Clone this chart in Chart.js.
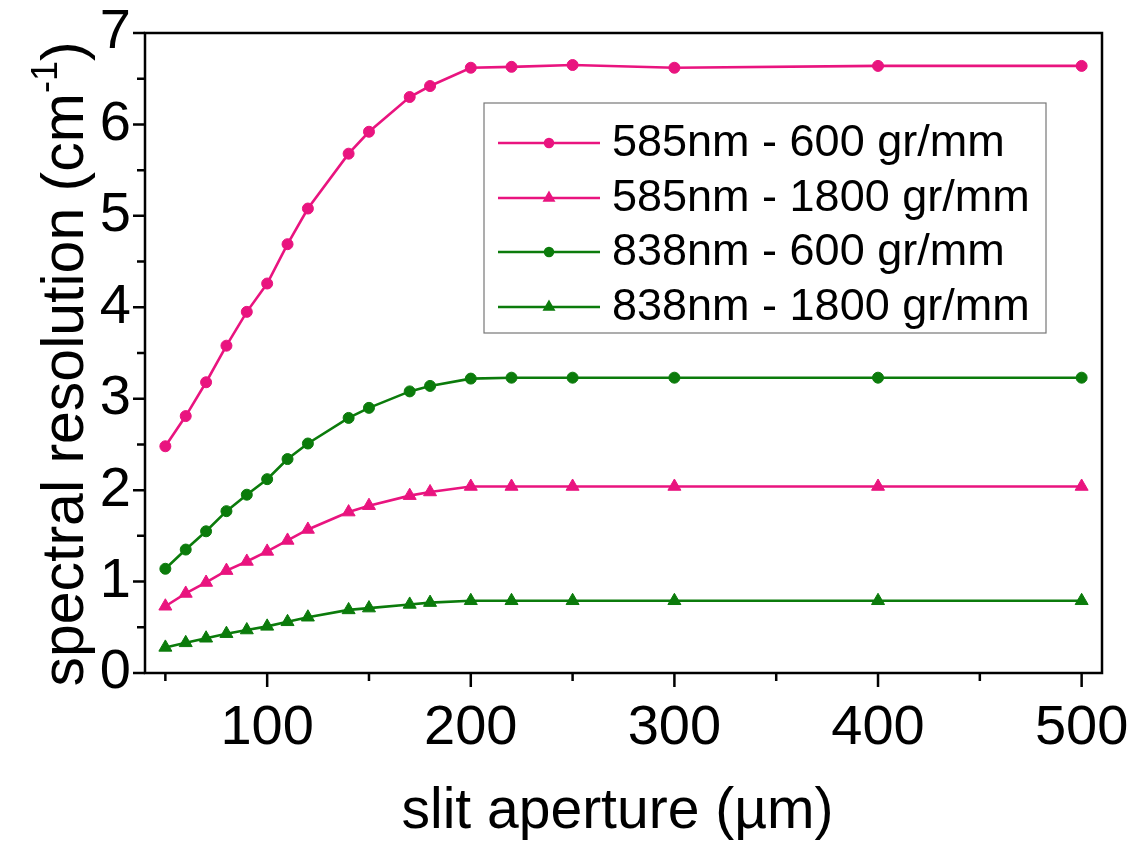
<!DOCTYPE html>
<html><head><meta charset="utf-8">
<script src="https://cdn.jsdelivr.net/npm/chart.js@4/dist/chart.umd.min.js"></script>
<style>html,body{margin:0;padding:0;background:#fff}canvas{display:block}</style>
</head><body>
<canvas id="c" width="1130" height="843"></canvas>
<script>
// ---- data ----
const slitAperture = [50,60,70,80,90,100,110,120,140,150,170,180,200,220,250,300,400,500];
const res585_600  = [2.48,2.81,3.18,3.58,3.95,4.26,4.69,5.08,5.68,5.92,6.30,6.42,6.62,6.63,6.65,6.62,6.64,6.64];
const res585_1800 = [0.73,0.87,0.99,1.12,1.22,1.33,1.45,1.57,1.76,1.83,1.94,1.98,2.04,2.04,2.04,2.04,2.04,2.04];
const res838_600  = [1.14,1.35,1.55,1.77,1.95,2.12,2.34,2.51,2.79,2.90,3.08,3.14,3.22,3.23,3.23,3.23,3.23,3.23];
const res838_1800 = [0.28,0.33,0.38,0.43,0.47,0.51,0.56,0.61,0.69,0.71,0.75,0.77,0.79,0.79,0.79,0.79,0.79,0.79];
const seriesLabels = ['585nm - 600 gr/mm','585nm - 1800 gr/mm','838nm - 600 gr/mm','838nm - 1800 gr/mm'];
const xMajorTicks = [100,200,300,400,500];
const xMinorTicks = [50,150,250,350,450];
const yMajorTicks = [0,1,2,3,4,5,6,7];
const yMinorTicks = [0.5,1.5,2.5,3.5,4.5,5.5,6.5];
const xTitle = 'slit aperture (µm)';
const yTitleMain = 'spectral resolution (cm';
const yTitleSup = '-1';
const yTitleEnd = ')';

// ---- styles ----
const PINK = '#E9147F';
const GREEN = '#0B7B0B';
const FONT = "'Liberation Sans', Arial, sans-serif";

function pts(ys){ return slitAperture.map((x,i)=>({x:x,y:ys[i]})); }
function ds(label, ys, color, style){
  return {label:label, data:pts(ys), borderColor:color, backgroundColor:color,
    borderWidth:2.6, pointStyle:style, pointRadius: style==='circle'?5.5:7.5,
    pointBorderWidth:1, tension:0, fill:false};
}

const framePlugin = {
  id:'frame',
  afterDatasetsDraw(chart){
    const {ctx, chartArea:a, scales:{x,y}} = chart;
    ctx.save();
    ctx.strokeStyle='#000';
    ctx.lineWidth=2.5;
    ctx.strokeRect(a.left, a.top, a.right-a.left, a.bottom-a.top);
    ctx.lineCap='butt';
    ctx.beginPath();
    xMajorTicks.forEach(v=>{const p=x.getPixelForValue(v); ctx.moveTo(p,a.bottom); ctx.lineTo(p,a.bottom+14);});
    xMinorTicks.forEach(v=>{const p=x.getPixelForValue(v); ctx.moveTo(p,a.bottom); ctx.lineTo(p,a.bottom+8);});
    yMajorTicks.forEach(v=>{const p=y.getPixelForValue(v); ctx.moveTo(a.left,p); ctx.lineTo(a.left-12,p);});
    yMinorTicks.forEach(v=>{const p=y.getPixelForValue(v); ctx.moveTo(a.left,p); ctx.lineTo(a.left-8,p);});
    ctx.stroke();

    // legend
    const lx=484, ly=103, lw=562, lh=230;
    ctx.lineWidth=1.2; ctx.strokeStyle='#777';
    ctx.strokeRect(lx,ly,lw,lh);
    const rows=[143,198,252,307];
    chart.data.datasets.forEach((d,i)=>{
      const yy=rows[i];
      ctx.strokeStyle=d.borderColor; ctx.fillStyle=d.borderColor; ctx.lineWidth=2.5;
      ctx.beginPath(); ctx.moveTo(498,yy); ctx.lineTo(600,yy); ctx.stroke();
      Chart.helpers.drawPoint(ctx,{pointStyle:d.pointStyle,rotation:0,radius:d.pointStyle==='circle'?4:5,borderWidth:1},549,yy);
      ctx.fillStyle='#000'; ctx.font='45px '+FONT; ctx.textBaseline='middle'; ctx.textAlign='left';
      ctx.fillText(d.label,612,yy+1);
    });

    // axis titles
    ctx.fillStyle='#000';
    ctx.font='57px '+FONT;
    ctx.textAlign='center'; ctx.textBaseline='alphabetic';
    ctx.fillText(xTitle,(a.left+a.right)/2-6,828);

    ctx.save();
    ctx.translate(83,364);
    ctx.rotate(-Math.PI/2);
    ctx.font='59px '+FONT;
    const w1=ctx.measureText(yTitleMain).width;
    ctx.font='36px '+FONT;
    const w2=ctx.measureText(yTitleSup).width;
    ctx.font='59px '+FONT;
    const w3=ctx.measureText(yTitleEnd).width;
    let sx=-(w1+w2+w3)/2;
    ctx.textAlign='left';
    ctx.fillText(yTitleMain,sx,0); sx+=w1;
    ctx.font='36px '+FONT; ctx.fillText(yTitleSup,sx,-26); sx+=w2;
    ctx.font='59px '+FONT; ctx.fillText(yTitleEnd,sx,0);
    ctx.restore();
    ctx.restore();
  }
};

new Chart(document.getElementById('c'),{
  type:'line',
  data:{datasets:[
    ds(seriesLabels[0],res585_600,PINK,'circle'),
    ds(seriesLabels[1],res585_1800,PINK,'triangle'),
    ds(seriesLabels[2],res838_600,GREEN,'circle'),
    ds(seriesLabels[3],res838_1800,GREEN,'triangle')
  ]},
  options:{
    responsive:false, animation:false, devicePixelRatio:1,
    layout:{padding:{left:0,right:28,top:33,bottom:0}},
    plugins:{legend:{display:false},tooltip:{enabled:false}},
    scales:{
      x:{type:'linear',min:40,max:510,
        grid:{display:false,drawTicks:false}, border:{display:false},
        afterBuildTicks:s=>{s.ticks=xMajorTicks.map(v=>({value:v}));},
        afterFit:s=>{s.height=843-673; s.paddingLeft=0; s.paddingRight=0;},
        ticks:{font:{family:FONT,size:56},color:'#000',padding:22,maxRotation:0,autoSkip:false}},
      y:{type:'linear',min:0,max:7,
        grid:{display:false,drawTicks:false}, border:{display:false},
        afterBuildTicks:s=>{s.ticks=yMajorTicks.map(v=>({value:v}));},
        afterFit:s=>{s.width=145; s.paddingTop=0; s.paddingBottom=0;},
        ticks:{font:{family:FONT,size:56},color:'#000',padding:14,autoSkip:false}}
    }
  },
  plugins:[framePlugin]
});
</script>
</body></html>
